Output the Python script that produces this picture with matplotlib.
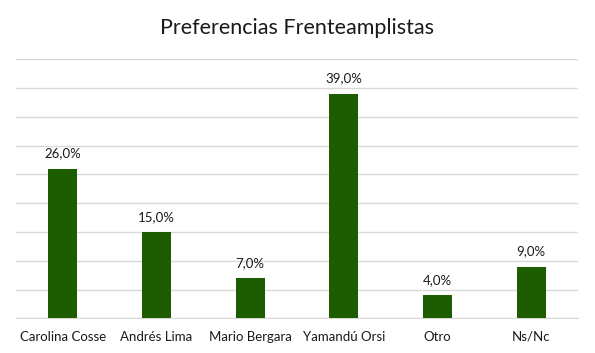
import numpy as np
import matplotlib.pyplot as plt

candidatos = ["Carolina Cosse", "Andrés Lima", "Mario Bergara", "Yamandú Orsi", "Otro", "Ns/Nc"]
valores = [26.0, 15.0, 7.0, 39.0, 4.0, 9.0]

plt.rcParams['font.family'] = ['Lato', 'DejaVu Sans']

fig = plt.figure(figsize=(5.95, 3.53), dpi=100)
ax = fig.add_axes([0.0269, 0.0983, 0.9445, 0.7337])

x = np.arange(len(candidatos))
ax.bar(x, valores, width=0.31, color='#1E5C00', zorder=3)

for xi, v in zip(x, valores):
    ax.annotate(f"{v:.1f}".replace('.', ',') + "%", (xi, v), xytext=(0, 11),
                textcoords='offset points', ha='center', va='center',
                fontsize=9.5, color='#1a1a1a')

ax.set_xlim(-0.5, len(candidatos) - 0.5)
ax.set_ylim(0, 45)
ax.set_yticks(np.arange(0, 46, 5))
ax.set_yticklabels([])
ax.tick_params(axis='y', length=0)
ax.tick_params(axis='x', length=0, pad=9, labelsize=9.5, labelcolor='#1a1a1a')
ax.set_xticks(x)
ax.set_xticklabels(candidatos)
ax.grid(axis='y', color='#d9d9d9', linewidth=1, zorder=0)
for s in ['top', 'right', 'left']:
    ax.spines[s].set_visible(False)
ax.spines['bottom'].set_color('#d9d9d9')

fig.text(0.5, 0.921, "Preferencias Frenteamplistas", ha='center', va='center',
         fontsize=15.5, color='#1a1a1a')

fig.savefig('out.png', dpi=100)
